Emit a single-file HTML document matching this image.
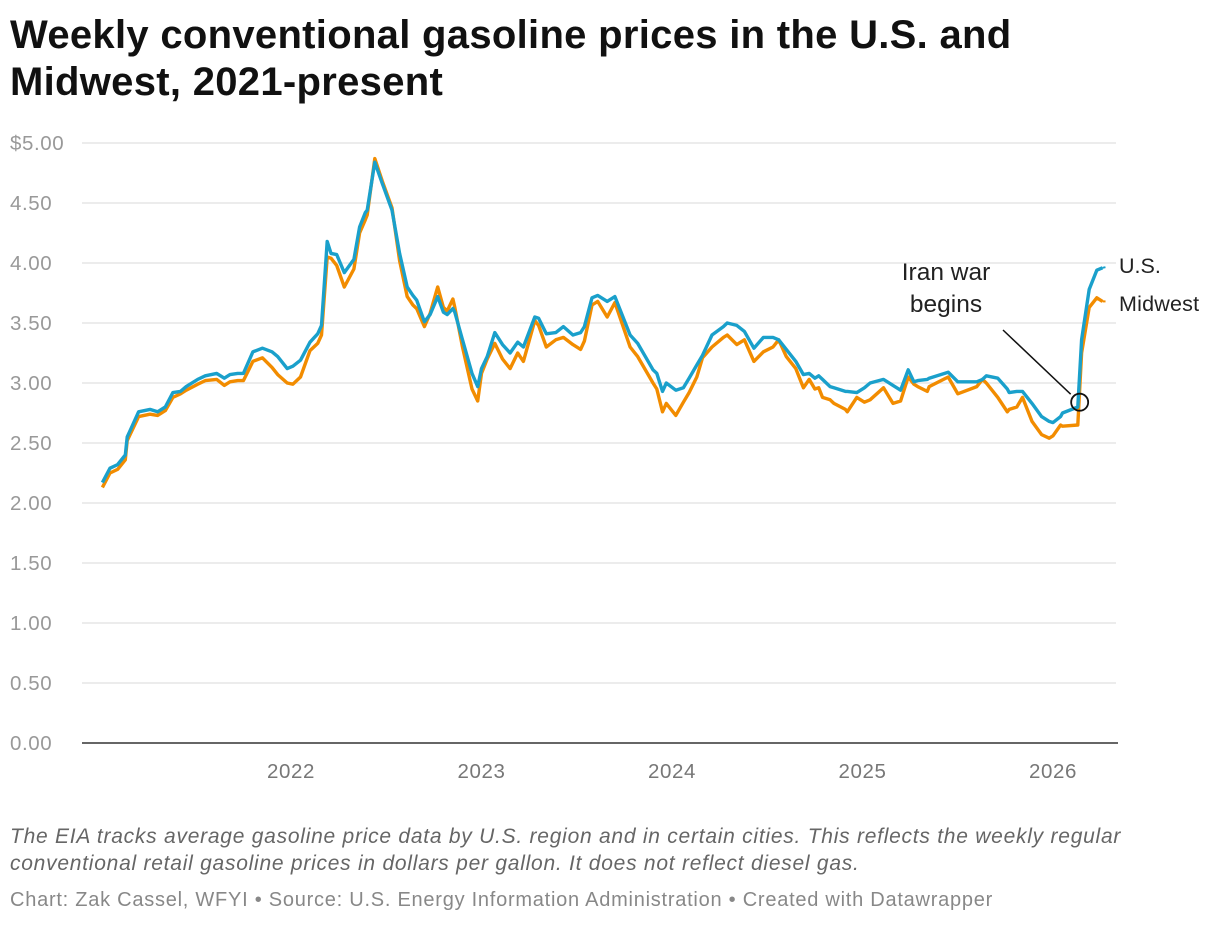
<!DOCTYPE html>
<html><head><meta charset="utf-8">
<style>
body{margin:0;background:#fff;width:1220px;height:926px;overflow:hidden;font-family:"Liberation Sans",Arial,sans-serif;}
#title{position:absolute;left:10px;top:12px;font-size:40px;font-weight:bold;line-height:47px;color:#111;margin:0;width:1080px;letter-spacing:0.3px;}
#notes{position:absolute;left:10px;top:823px;font-size:21px;font-style:italic;color:#666;line-height:27px;width:1150px;letter-spacing:0.75px;}
#credit{position:absolute;left:10px;top:889px;font-size:20px;color:#888;letter-spacing:0.75px;}
svg{position:absolute;left:0;top:0;}
</style></head>
<body>
<h1 id="title">Weekly conventional gasoline prices in the U.S. and Midwest, 2021-present</h1>
<svg id="chart" width="1220" height="926"></svg>
<div id="notes">The EIA tracks average gasoline price data by U.S. region and in certain cities. This reflects the weekly regular conventional retail gasoline prices in dollars per gallon. It does not reflect diesel gas.</div>
<div id="credit">Chart: Zak Cassel, WFYI • Source: U.S. Energy Information Administration • Created with Datawrapper</div>
<script>
const dates=[2021.01,2021.05,2021.09,2021.13,2021.14,2021.20,2021.26,2021.30,2021.34,2021.38,2021.42,2021.45,2021.51,2021.55,2021.61,2021.65,2021.68,2021.72,2021.75,2021.80,2021.85,2021.90,2021.93,2021.98,2022.01,2022.05,2022.10,2022.14,2022.16,2022.19,2022.21,2022.24,2022.28,2022.33,2022.36,2022.39,2022.40,2022.44,2022.48,2022.53,2022.57,2022.61,2022.64,2022.66,2022.70,2022.73,2022.77,2022.80,2022.82,2022.85,2022.86,2022.90,2022.95,2022.98,2023.00,2023.03,2023.07,2023.11,2023.15,2023.19,2023.22,2023.28,2023.30,2023.34,2023.39,2023.43,2023.48,2023.52,2023.54,2023.58,2023.61,2023.66,2023.70,2023.78,2023.82,2023.90,2023.92,2023.95,2023.97,2024.02,2024.06,2024.09,2024.13,2024.16,2024.21,2024.27,2024.29,2024.34,2024.38,2024.43,2024.48,2024.53,2024.56,2024.60,2024.65,2024.69,2024.72,2024.75,2024.77,2024.79,2024.83,2024.85,2024.91,2024.92,2024.97,2025.01,2025.04,2025.11,2025.16,2025.20,2025.24,2025.27,2025.29,2025.34,2025.35,2025.45,2025.50,2025.60,2025.63,2025.65,2025.71,2025.76,2025.77,2025.81,2025.84,2025.89,2025.94,2025.98,2026.00,2026.04,2026.05,2026.13,2026.15,2026.19,2026.23,2026.26];
const usPrices=[2.17,2.29,2.32,2.40,2.55,2.76,2.78,2.76,2.80,2.92,2.93,2.97,3.03,3.06,3.08,3.04,3.07,3.08,3.08,3.26,3.29,3.26,3.22,3.12,3.14,3.19,3.34,3.41,3.48,4.18,4.08,4.07,3.92,4.03,4.30,4.42,4.44,4.84,4.66,4.44,4.08,3.80,3.73,3.69,3.51,3.57,3.72,3.59,3.57,3.62,3.59,3.36,3.08,2.97,3.12,3.22,3.42,3.32,3.25,3.34,3.30,3.55,3.54,3.41,3.42,3.47,3.40,3.42,3.47,3.71,3.73,3.68,3.72,3.40,3.33,3.11,3.08,2.93,3.00,2.94,2.96,3.04,3.15,3.23,3.40,3.47,3.50,3.48,3.43,3.29,3.38,3.38,3.36,3.28,3.18,3.07,3.08,3.04,3.06,3.03,2.97,2.96,2.93,2.93,2.92,2.96,3.00,3.03,2.98,2.94,3.11,3.01,3.02,3.03,3.04,3.09,3.01,3.01,3.03,3.06,3.04,2.95,2.92,2.93,2.93,2.83,2.72,2.68,2.67,2.72,2.75,2.80,3.36,3.78,3.94,3.96];
const mwPrices=[2.13,2.25,2.28,2.36,2.52,2.72,2.74,2.73,2.77,2.88,2.91,2.94,2.99,3.02,3.03,2.98,3.01,3.02,3.02,3.18,3.21,3.13,3.07,3.00,2.99,3.05,3.27,3.33,3.40,4.05,4.04,3.98,3.80,3.95,4.25,4.36,4.40,4.87,4.68,4.46,4.02,3.72,3.65,3.62,3.47,3.58,3.80,3.63,3.60,3.70,3.63,3.30,2.95,2.85,3.08,3.20,3.33,3.20,3.12,3.25,3.18,3.52,3.48,3.30,3.36,3.38,3.32,3.28,3.35,3.65,3.68,3.55,3.67,3.30,3.22,3.00,2.95,2.76,2.83,2.73,2.84,2.92,3.05,3.21,3.30,3.38,3.40,3.32,3.36,3.18,3.26,3.30,3.36,3.22,3.12,2.96,3.03,2.95,2.96,2.88,2.86,2.83,2.78,2.76,2.88,2.84,2.86,2.96,2.83,2.85,3.05,2.99,2.97,2.93,2.97,3.05,2.91,2.97,3.03,3.00,2.88,2.76,2.78,2.80,2.88,2.68,2.57,2.54,2.56,2.65,2.64,2.65,3.25,3.63,3.71,3.68];
const yTicks=[0,0.5,1,1.5,2,2.5,3,3.5,4,4.5,5];
const yTickLabels=["0.00","0.50","1.00","1.50","2.00","2.50","3.00","3.50","4.00","4.50","$5.00"];
const xTicks=[2022,2023,2024,2025,2026];
const lastUS=3.97, lastMW=3.68, lastDate=2026.29;
const eventDate=2026.14, eventValue=2.84;

const NS="http://www.w3.org/2000/svg";
const svg=document.getElementById('chart');
const X=d=>291+(d-2022)*190.5;
const Y=v=>743-v*120;
function mk(tag,attrs,parent){const e=document.createElementNS(NS,tag);for(const k in attrs)e.setAttribute(k,attrs[k]);(parent||svg).appendChild(e);return e;}

yTicks.forEach((t,i)=>{
  if(t>0){const g=mk('line',{x1:82,x2:1116,y1:Y(t),y2:Y(t),stroke:'#e0e0e0','stroke-width':1.3});
  
  }
  const l=mk('text',{x:10,y:Y(t)+7,'font-size':20.5,fill:'#999','letter-spacing':0.6});
  l.textContent=yTickLabels[i];
  
  
});
const ax=mk('line',{x1:82,x2:1118,y1:743,y2:743,stroke:'#333','stroke-width':1.5});


xTicks.forEach(t=>{
  const l=mk('text',{x:X(t),y:778,'font-size':20.5,fill:'#777','text-anchor':'middle','letter-spacing':0.6});
  l.textContent=String(t);
  
  
});
function path(vals){return vals.map((v,i)=>(i?'L':'M')+X(dates[i]).toFixed(1)+','+Y(v).toFixed(1)).join('');}
const mw=mk('path',{d:path(mwPrices),fill:'none',stroke:'#f28c00','stroke-width':3.4,'stroke-linejoin':'round'});


const us=mk('path',{d:path(usPrices),fill:'none',stroke:'#1aa0cb','stroke-width':3.4,'stroke-linejoin':'round'});


const n=dates.length-1;
const usd=mk('line',{x1:X(dates[n]),y1:Y(usPrices[n]),x2:X(lastDate),y2:Y(lastUS),stroke:'#1aa0cb','stroke-width':2,'stroke-dasharray':'3,3'});


const mwd=mk('line',{x1:X(dates[n]),y1:Y(mwPrices[n]),x2:X(lastDate),y2:Y(lastMW),stroke:'#f28c00','stroke-width':2,'stroke-dasharray':'3,3'});


const ul=mk('text',{x:1119,y:273,'font-size':21.5,fill:'#222'});ul.textContent='U.S.';


const ml=mk('text',{x:1119,y:311,'font-size':21.5,fill:'#222','letter-spacing':0.2});ml.textContent='Midwest';


const cx=X(eventDate),cy=Y(eventValue);
const c=mk('circle',{cx:cx,cy:cy,r:8.5,fill:'none',stroke:'#111','stroke-width':1.8});


const al=mk('line',{x1:1003,y1:330,x2:cx-9,y2:cy-8,stroke:'#111','stroke-width':1.5});


const at=mk('text',{x:946,y:280,'font-size':24.5,fill:'#222','text-anchor':'middle'});


const t1=mk('tspan',{x:946,dy:0},at);t1.textContent='Iran war';
const t2=mk('tspan',{x:946,dy:32},at);t2.textContent='begins';
</script>
</body></html>
